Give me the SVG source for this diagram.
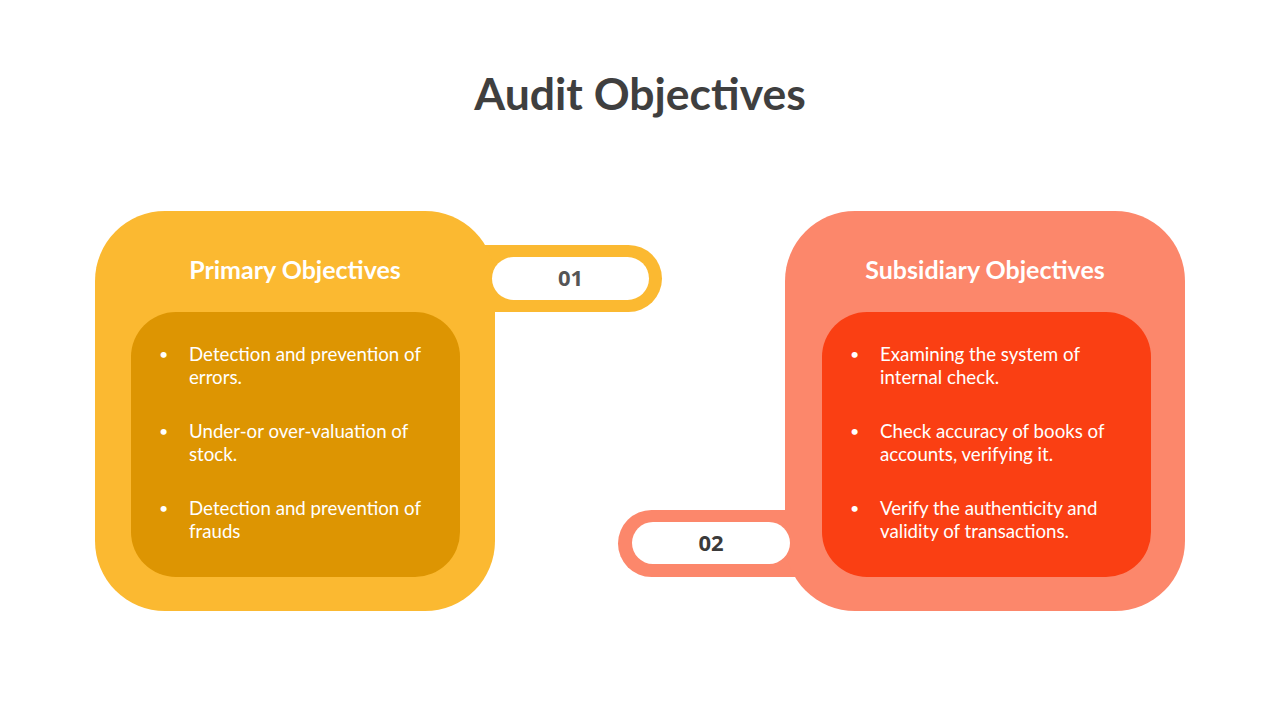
<svg xmlns="http://www.w3.org/2000/svg" width="1280" height="720" viewBox="0 0 1280 720">
<style>
.title{font-family:Lato,"Open Sans","Liberation Sans",sans-serif;font-weight:700;font-size:44.5px;fill:#3F3F3F}
.head{font-family:Lato,"Open Sans","Liberation Sans",sans-serif;font-weight:700;font-size:25px;fill:#FFFFFF}
.num{font-family:"Open Sans","Liberation Sans",sans-serif;font-weight:700;font-size:22px;fill:#555555}
.txt{font-family:Lato,"Open Sans","Liberation Sans",sans-serif;font-size:18.7px;fill:#FFFFFF}
.bul{font-family:Lato,"Open Sans","Liberation Sans",sans-serif;font-size:16px;fill:#FFFFFF}
</style>
<rect width="1280" height="720" fill="#FFFFFF"/>
<text class="title" x="640" y="110" text-anchor="middle">Audit Objectives</text>
<g id="node-primary">
<path d="M440 245 H628.5 A33.5 33.5 0 0 1 628.5 312 H440 Z" fill="#FBB931"/>
<rect x="95" y="211" width="400" height="400" rx="70" fill="#FBB931"/>
<rect x="492" y="257" width="157" height="43" rx="21.5" fill="#FFFFFF"/>
<text class="num" x="570.5" y="286" text-anchor="middle">01</text>
<text class="head" x="295" y="279" text-anchor="middle">Primary Objectives</text>
<rect x="131" y="312" width="329" height="265" rx="45" fill="#DD9502"/>
<g class="txt">
<text class="bul" x="159" y="360">•</text>
<text x="189" y="361">Detection and prevention of</text>
<text x="189" y="384">errors.</text>
<text class="bul" x="159" y="437">•</text>
<text x="189" y="438">Under-or over-valuation of</text>
<text x="189" y="461">stock.</text>
<text class="bul" x="159" y="514">•</text>
<text x="189" y="515">Detection and prevention of</text>
<text x="189" y="538">frauds</text>
</g>
</g>
<g id="node-subsidiary">
<path d="M830 510 H651.5 A33.5 33.5 0 0 0 651.5 577 H830 Z" fill="#FC876B"/>
<rect x="785" y="211" width="400" height="400" rx="70" fill="#FC876B"/>
<rect x="632" y="522" width="158" height="42" rx="21" fill="#FFFFFF"/>
<text class="num" x="711" y="551" text-anchor="middle" style="fill:#3A3A3A">02</text>
<text class="head" x="985" y="279" text-anchor="middle">Subsidiary Objectives</text>
<rect x="822" y="312" width="329" height="265" rx="45" fill="#FA3F13"/>
<g class="txt">
<text class="bul" x="850" y="360">•</text>
<text x="880" y="361">Examining the system  of</text>
<text x="880" y="384">internal check.</text>
<text class="bul" x="850" y="437">•</text>
<text x="880" y="438">Check accuracy of books of</text>
<text x="880" y="461">accounts, verifying it.</text>
<text class="bul" x="850" y="514">•</text>
<text x="880" y="515">Verify the authenticity and</text>
<text x="880" y="538">validity of transactions.</text>
</g>
</g>
<g id="connectors"></g>
</svg>
